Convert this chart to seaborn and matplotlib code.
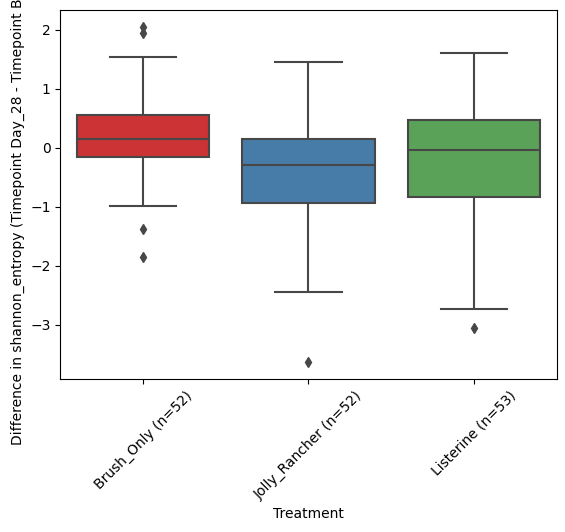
import numpy as np
import pandas as pd
import matplotlib
matplotlib.use("Agg")
import matplotlib.pyplot as plt
import seaborn as sns

# values (differences per subject, Day_28 - Baseline)
brush_only = [-1.85, -1.37, -0.99, -0.81, -0.66, -0.55, -0.46, -0.38, -0.31, -0.26,
              -0.22, -0.18, -0.15, -0.15, -0.12, -0.08, -0.05, -0.02, 0.01, 0.03,
              0.06, 0.08, 0.10, 0.12, 0.13, 0.145, 0.145, 0.17, 0.20, 0.23,
              0.26, 0.29, 0.33, 0.36, 0.40, 0.44, 0.48, 0.52, 0.56, 0.56,
              0.61, 0.67, 0.74, 0.82, 0.90, 1.00, 1.11, 1.24, 1.38, 1.54,
              1.94, 2.05]
jolly_rancher = [-3.63, -2.44, -2.12, -1.88, -1.70, -1.55, -1.44, -1.34, -1.25, -1.17,
                 -1.09, -1.02, -0.94, -0.94, -0.88, -0.82, -0.76, -0.70, -0.65, -0.59,
                 -0.54, -0.49, -0.44, -0.39, -0.34, -0.29, -0.29, -0.25, -0.21, -0.17,
                 -0.13, -0.09, -0.06, -0.03, 0.01, 0.04, 0.08, 0.11, 0.145, 0.145,
                 0.20, 0.26, 0.33, 0.40, 0.48, 0.57, 0.68, 0.80, 0.94, 1.08,
                 1.25, 1.45]
listerine = [-3.05, -2.73, -2.30, -1.98, -1.74, -1.55, -1.40, -1.28, -1.17, -1.08,
             -1.00, -0.94, -0.88, -0.83, -0.77, -0.71, -0.65, -0.58, -0.52, -0.46,
             -0.40, -0.34, -0.28, -0.22, -0.16, -0.10, -0.045, 0.00, 0.05, 0.10,
             0.14, 0.19, 0.23, 0.27, 0.31, 0.35, 0.39, 0.42, 0.45, 0.48,
             0.53, 0.59, 0.66, 0.73, 0.81, 0.89, 0.98, 1.07, 1.17, 1.27,
             1.38, 1.49, 1.61]

groups = {"Brush_Only": brush_only, "Jolly_Rancher": jolly_rancher, "Listerine": listerine}

rows = []
for name, vals in groups.items():
    label = f"{name} (n={len(vals)})"
    for v in vals:
        rows.append({"Treatment": label, "diff": v})
df = pd.DataFrame(rows)

fig, ax = plt.subplots(figsize=(5.65, 5.32), dpi=100)
fig.subplots_adjust(left=0.107, right=0.985, top=0.981, bottom=0.288)

sns.boxplot(data=df, x="Treatment", y="diff", hue="Treatment", palette="Set1",
            legend=False, linecolor="#474747", linewidth=1.5,
            flierprops={"marker": "d", "markerfacecolor": "#474747",
                        "markeredgecolor": "#474747", "markersize": 5},
            ax=ax)

ax.set_xlabel("Treatment")
# long label is clipped at the top edge in the original too
ax.set_ylabel("Difference in shannon_entropy (Timepoint Day_28 - Timepoint Baseline)")
ax.tick_params(axis="x", rotation=45)

fig.savefig("out.png", dpi=100)
